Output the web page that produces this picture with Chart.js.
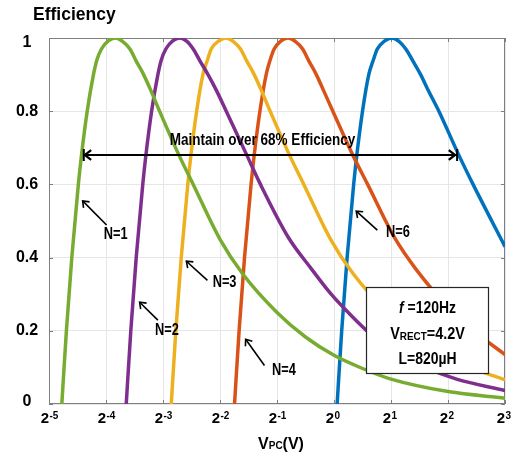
<!DOCTYPE html>
<html>
<head>
<meta charset="utf-8">
<script src="https://cdn.jsdelivr.net/npm/chart.js@4"></script>
<style>
  body { margin: 0; background: #fff; }
  canvas { display: block; }
</style>
</head>
<body>
<canvas id="effChart" width="519" height="457"></canvas>
<script>
// x is the exponent of 2 : V_PC = 2^x volts
const xTicks = [-5, -4, -3, -2, -1, 0, 1, 2, 3];
const yTicks = [0, 0.2, 0.4, 0.6, 0.8, 1];
const yTickLabels = ['0', '0.2', '0.4', '0.6', '0.8', '1'];

// N = 1
const n1Exp = [-4.775, -4.695, -4.60, -4.485, -4.43, -4.33, -4.22, -4.16, -4.08, -3.96, -3.84, -3.71, -3.58, -3.47, -3.34, -3.22, -3.06, -2.72, -2.47, -2.0, -1.6, -1.0, -0.5, 0.0, 0.5, 1.0, 2.0, 3.0];
const n1Eff = [0, 0.2, 0.4, 0.6, 0.68, 0.8, 0.9, 0.94, 0.97, 0.992, 1.0, 0.991, 0.97, 0.937, 0.9, 0.859, 0.8, 0.68, 0.6, 0.45, 0.355, 0.25, 0.183, 0.133, 0.097, 0.068, 0.034, 0.016];
// N = 2
const n2Exp = [-3.645, -3.565, -3.47, -3.355, -3.30, -3.20, -3.09, -3.03, -2.95, -2.83, -2.71, -2.58, -2.47, -2.35, -2.21, -2.07, -1.89, -1.53, -1.29, -0.8, -0.4, -0.05, 0.25, 0.65, 1.1, 1.6, 2.15, 3.0];
const n2Eff = [0, 0.2, 0.4, 0.6, 0.68, 0.8, 0.9, 0.94, 0.97, 0.992, 1.0, 0.991, 0.97, 0.937, 0.9, 0.859, 0.8, 0.68, 0.6, 0.455, 0.37, 0.30, 0.25, 0.19, 0.14, 0.1, 0.068, 0.037];
// N = 3
const n3Exp = [-2.855, -2.775, -2.68, -2.565, -2.51, -2.41, -2.30, -2.22, -2.155, -2.02, -1.90, -1.77, -1.64, -1.53, -1.40, -1.28, -1.12, -0.78, -0.53, -0.06, 0.34, 0.94, 1.44, 1.94, 2.44, 3.0];
const n3Eff = [0, 0.2, 0.4, 0.6, 0.68, 0.8, 0.9, 0.94, 0.97, 0.992, 1.0, 0.991, 0.97, 0.937, 0.9, 0.859, 0.8, 0.68, 0.6, 0.45, 0.355, 0.25, 0.183, 0.133, 0.097, 0.066];
// N = 4
const n4Exp = [-1.745, -1.665, -1.57, -1.455, -1.40, -1.30, -1.19, -1.12, -1.05, -0.93, -0.81, -0.68, -0.55, -0.44, -0.31, -0.19, -0.02, 0.33, 0.59, 1.06, 1.43, 2.03, 2.53, 3.0];
const n4Eff = [0, 0.2, 0.4, 0.6, 0.68, 0.8, 0.9, 0.94, 0.97, 0.992, 1.0, 0.991, 0.97, 0.937, 0.9, 0.859, 0.8, 0.68, 0.6, 0.455, 0.37, 0.26, 0.19, 0.135];
// N = 6
const n6Exp = [0.055, 0.135, 0.23, 0.345, 0.40, 0.50, 0.61, 0.69, 0.76, 0.89, 1.01, 1.14, 1.26, 1.385, 1.52, 1.65, 1.84, 2.19, 2.44, 3.0];
const n6Eff = [0, 0.2, 0.4, 0.6, 0.68, 0.8, 0.9, 0.94, 0.97, 0.992, 1.0, 0.991, 0.97, 0.937, 0.9, 0.858, 0.8, 0.68, 0.6, 0.43];

const stageNames = ['N=1', 'N=2', 'N=3', 'N=4', 'N=6'];
const stageColors = ['#77AC30', '#7E2F8E', '#EDB120', '#D95319', '#0072BD'];
const stageExp = [n1Exp, n2Exp, n3Exp, n4Exp, n6Exp];
const stageEff = [n1Eff, n2Eff, n3Eff, n4Eff, n6Eff];

// curve labels and their pointer arrows, in axis units [exp, eff]
const labelAt = [[-3.83, 0.462], [-2.93, 0.20], [-1.92, 0.333], [-0.88, 0.092], [1.12, 0.467]];
const arrowTail = [[-3.99, 0.489], [-3.09, 0.229], [-2.22, 0.338], [-1.22, 0.105], [0.76, 0.475]];
const arrowHead = [[-4.41, 0.555], [-3.41, 0.278], [-2.59, 0.39], [-1.55, 0.177], [0.39, 0.527]];

// 68% span arrow
const spanLevel = 0.68;
const spanFrom = -4.39;
const spanTo = 2.16;

const BOLD = 'bold {s}px "Liberation Sans", Arial, sans-serif';
const font = s => BOLD.replace('{s}', s);

function narrowText(ctx, text, x, y, sx) {
  ctx.save();
  ctx.translate(x, y);
  ctx.scale(sx, 1);
  ctx.fillText(text, 0, 0);
  ctx.restore();
}

// pieces: [text, size, dy]; drawn left to right, centred on cx
function pieceText(ctx, pieces, cx, y, sx) {
  let total = 0;
  pieces.forEach(p => { ctx.font = font(p[1]); total += ctx.measureText(p[0]).width * sx; });
  let x = cx - total / 2;
  ctx.textAlign = 'left';
  pieces.forEach(p => {
    ctx.font = font(p[1]);
    narrowText(ctx, p[0], x, y + (p[2] || 0), sx);
    x += ctx.measureText(p[0]).width * sx;
  });
}

function headAt(ctx, x1, y1, x2, y2, size) {
  const a = Math.atan2(y2 - y1, x2 - x1);
  ctx.beginPath();
  ctx.moveTo(x2 - size * Math.cos(a - 0.65), y2 - size * Math.sin(a - 0.65));
  ctx.lineTo(x2, y2);
  ctx.lineTo(x2 - size * Math.cos(a + 0.65), y2 - size * Math.sin(a + 0.65));
  ctx.stroke();
}

const decorations = {
  id: 'decorations',
  beforeDatasetsDraw(chart) {
    const { ctx, chartArea: a, scales: { x, y } } = chart;
    ctx.save();
    // axes box
    ctx.strokeStyle = '#7f7f7f';
    ctx.lineWidth = 1;
    ctx.strokeRect(a.left + 0.5, a.top + 0.5, a.right - a.left - 1, a.bottom - a.top - 1);
    // inward tick marks
    ctx.beginPath();
    xTicks.forEach(t => {
      const px = Math.round(x.getPixelForValue(t)) + 0.5;
      ctx.moveTo(px, a.bottom); ctx.lineTo(px, a.bottom - 4);
      ctx.moveTo(px, a.top); ctx.lineTo(px, a.top + 4);
    });
    yTicks.forEach(t => {
      const py = Math.round(y.getPixelForValue(t)) + 0.5;
      ctx.moveTo(a.left, py); ctx.lineTo(a.left + 4, py);
      ctx.moveTo(a.right, py); ctx.lineTo(a.right - 4, py);
    });
    ctx.stroke();
    ctx.restore();
  },
  afterDatasetsDraw(chart) {
    const { ctx, chartArea: a, scales: { x, y } } = chart;
    ctx.save();
    ctx.fillStyle = '#000';
    ctx.strokeStyle = '#000';

    // y tick labels
    ctx.font = font(16);
    ctx.textAlign = 'center';
    ctx.textBaseline = 'middle';
    yTicks.forEach((t, i) => {
      let py = y.getPixelForValue(t);
      if (t === 1) py += 5;
      if (t === 0) py -= 2;
      ctx.fillText(yTickLabels[i], 27, py);
    });

    // x tick labels 2^n
    ctx.textBaseline = 'alphabetic';
    xTicks.forEach(t => {
      const px = x.getPixelForValue(t);
      ctx.font = font(15);
      ctx.textAlign = 'right';
      ctx.fillText('2', px, a.bottom + 19);
      ctx.font = font(10);
      ctx.textAlign = 'left';
      ctx.fillText(t < 0 ? '-' + (-t) : String(t), px + 0.5, a.bottom + 15);
    });

    // axis titles
    ctx.font = font(17.5);
    ctx.textAlign = 'left';
    ctx.fillText('Efficiency', 33, 20);
    pieceText(ctx, [['V', 16], ['PC', 10], ['(V)', 16]], 281, a.bottom + 45, 1);

    // 68% span
    const sy = Math.round(y.getPixelForValue(spanLevel));
    const sx1 = x.getPixelForValue(spanFrom);
    const sx2 = x.getPixelForValue(spanTo);
    ctx.lineWidth = 2;
    ctx.beginPath();
    ctx.moveTo(sx1, sy); ctx.lineTo(sx2, sy);
    ctx.moveTo(sx1, sy - 6); ctx.lineTo(sx1, sy + 6);
    ctx.moveTo(sx2, sy - 6); ctx.lineTo(sx2, sy + 6);
    ctx.stroke();
    ctx.lineWidth = 2.2;
    headAt(ctx, sx2, sy, sx1 + 1, sy, 8);
    headAt(ctx, sx1, sy, sx2 - 2, sy, 8);
    ctx.font = font(16);
    ctx.textAlign = 'center';
    narrowText(ctx, 'Maintain over 68% Efficiency', (sx1 + sx2) / 2 - 8, sy - 10, 0.845);

    // curve labels with pointers
    ctx.lineWidth = 1.6;
    stageNames.forEach((name, i) => {
      const tx = x.getPixelForValue(arrowTail[i][0]), ty = y.getPixelForValue(arrowTail[i][1]);
      const hx = x.getPixelForValue(arrowHead[i][0]), hy = y.getPixelForValue(arrowHead[i][1]);
      ctx.beginPath();
      ctx.moveTo(tx, ty); ctx.lineTo(hx, hy);
      ctx.stroke();
      headAt(ctx, tx, ty, hx, hy, 7);
      ctx.font = font(16);
      ctx.textAlign = 'center';
      ctx.textBaseline = 'middle';
      narrowText(ctx, name, x.getPixelForValue(labelAt[i][0]), y.getPixelForValue(labelAt[i][1]), 0.8);
    });

    // operating conditions box
    const bx1 = Math.round(x.getPixelForValue(0.56)) + 0.5;
    const bx2 = Math.round(x.getPixelForValue(2.70)) + 0.5;
    const by1 = Math.round(y.getPixelForValue(0.32)) + 0.5;
    const by2 = Math.round(y.getPixelForValue(0.085)) + 0.5;
    ctx.fillStyle = '#fff';
    ctx.fillRect(bx1, by1, bx2 - bx1, by2 - by1);
    ctx.strokeStyle = '#262626';
    ctx.lineWidth = 1.2;
    ctx.strokeRect(bx1, by1, bx2 - bx1, by2 - by1);
    ctx.fillStyle = '#000';
    ctx.textBaseline = 'alphabetic';
    const cx = (bx1 + bx2) / 2;
    // f =120Hz with italic f
    ctx.font = 'italic ' + font(16);
    const fw = ctx.measureText('f').width * 0.87;
    ctx.font = font(16);
    const rw = ctx.measureText(' =120Hz').width * 0.87;
    const fx = cx - (fw + rw) / 2;
    ctx.textAlign = 'left';
    ctx.font = 'italic ' + font(16);
    narrowText(ctx, 'f', fx, by1 + 25, 0.87);
    ctx.font = font(16);
    narrowText(ctx, ' =120Hz', fx + fw, by1 + 25, 0.87);
    pieceText(ctx, [['V', 16], ['RECT', 11, 1], ['=4.2V', 16]], cx, by1 + 51, 0.9);
    ctx.font = font(16);
    ctx.textAlign = 'center';
    narrowText(ctx, 'L=820\u00B5H', cx, by1 + 76, 0.87);
    ctx.restore();
  }
};

const datasets = stageNames.map((name, i) => ({
  label: name,
  data: stageExp[i].map((v, k) => ({ x: v, y: stageEff[i][k] })),
  borderColor: stageColors[i],
  borderWidth: 3.5,
  pointRadius: 0,
  fill: false,
  cubicInterpolationMode: 'monotone'
}));

new Chart(document.getElementById('effChart'), {
  type: 'line',
  data: { datasets },
  options: {
    responsive: false,
    animation: false,
    layout: { padding: { left: 49, right: 14, top: 38, bottom: 53 } },
    plugins: { legend: { display: false }, tooltip: { enabled: false } },
    scales: {
      x: {
        type: 'linear', min: -5, max: 3,
        ticks: { stepSize: 1, display: false },
        grid: { color: '#e6e6e6', drawTicks: false },
        border: { display: false },
        afterFit: s => { s.height = 0; }
      },
      y: {
        min: 0, max: 1,
        ticks: { stepSize: 0.2, display: false },
        grid: { color: '#e6e6e6', drawTicks: false },
        border: { display: false },
        afterFit: s => { s.width = 0; }
      }
    }
  },
  plugins: [decorations]
});
</script>
</body>
</html>
